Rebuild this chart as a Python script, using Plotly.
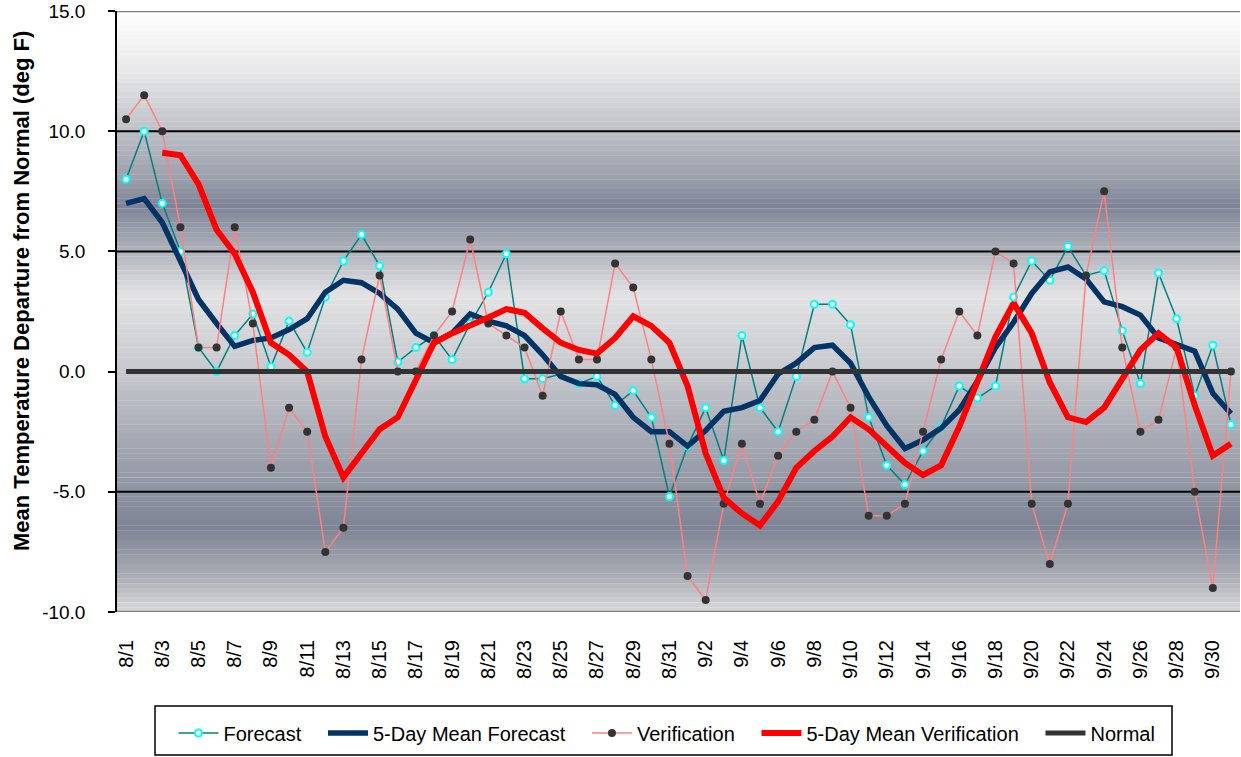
import plotly.graph_objects as go

# ---- data ----
dates = [f"8/{d}" for d in range(1, 32)] + [f"9/{d}" for d in range(1, 31)] + ["10/1"]

forecast = [8.0, 10.0, 7.0, 5.0, 1.0, 0.0, 1.5, 2.4, 0.2, 2.1,
            0.8, 3.1, 4.6, 5.7, 4.4, 0.4, 1.0, 1.5, 0.5, 2.0,
            3.3, 4.9, -0.3, -0.3, -0.1, -0.5, -0.2, -1.4, -0.8, -1.9, -5.2,
            -3.1, -1.5, -3.7, 1.5, -1.5, -2.5, -0.2, 2.8, 2.8, 1.95,
            -1.9, -3.9, -4.7, -3.3, -2.3, -0.6, -1.1, -0.6, 3.1, 4.6,
            3.8, 5.2, 4.0, 4.2, 1.7, -0.5, 4.1, 2.2, -1.0, 1.1,
            -2.2]

forecast_mean5 = [7.0, 7.2, 6.2, 4.6, 3.0, 2.0, 1.05, 1.3, 1.4, 1.75,
                  2.2, 3.3, 3.8, 3.7, 3.25, 2.6, 1.6, 1.2, 1.6, 2.4,
                  2.1, 1.9, 1.5, 0.7, -0.2, -0.5, -0.55, -0.95, -1.9, -2.5, -2.5,
                  -3.1, -2.45, -1.65, -1.5, -1.2, -0.1, 0.35, 1.0, 1.1, 0.35,
                  -1.05, -2.25, -3.2, -2.85, -2.35, -1.6, -0.4, 1.0, 2.05, 3.25,
                  4.15, 4.35, 3.85, 2.9, 2.7, 2.35, 1.4, 1.1, 0.85, -0.9,
                  -1.75]

verification = [10.5, 11.5, 10.0, 6.0, 1.0, 1.0, 6.0, 2.0, -4.0, -1.5,
                -2.5, -7.5, -6.5, 0.5, 4.0, 0.0, 0.0, 1.5, 2.5, 5.5,
                2.0, 1.5, 1.0, -1.0, 2.5, 0.5, 0.5, 4.5, 3.5, 0.5, -3.0,
                -8.5, -9.5, -5.5, -3.0, -5.5, -3.5, -2.5, -2.0, 0.0, -1.5,
                -6.0, -6.0, -5.5, -2.5, 0.5, 2.5, 1.5, 5.0, 4.5, -5.5,
                -8.0, -5.5, 4.0, 7.5, 1.0, -2.5, -2.0, 1.0, -5.0, -9.0,
                0.0]

# 5-day mean verification starts on 8/3
verification_mean5_dates = dates[2:]
verification_mean5 = [9.1, 9.0, 7.8, 5.9, 4.9, 3.3, 1.2, 0.7, 0.0, -2.7,
                      -4.4, -3.45, -2.4, -1.9, -0.3, 1.2, 1.6, 1.9, 2.25, 2.6,
                      2.45, 1.8, 1.2, 0.9, 0.75, 1.4, 2.3, 1.9, 1.2,
                      -0.6, -3.4, -5.25, -5.9, -6.4, -5.4, -4.0, -3.3, -2.7, -1.9,
                      -2.4, -3.1, -3.8, -4.3, -3.9, -2.3, -0.4, 1.45, 2.85, 1.6,
                      -0.45, -1.9, -2.1, -1.5, -0.3, 0.9, 1.6, 1.0, -1.4, -3.5,
                      -3.0]

normal = [0.0] * len(dates)

y_ticks = [-10, -5, 0, 5, 10, 15]
y_tick_labels = ["-10.0", "-5.0", "0.0", "5.0", "10.0", "15.0"]
grid_values = [10, 5, -5]

FONT = "Arial, Liberation Sans, sans-serif"
SP = "\u00a0\u00a0\u00a0"

fig = go.Figure()
fig.add_trace(go.Scatter(x=dates, y=forecast, name="Forecast" + SP, mode="lines+markers",
                         line=dict(color="#008080", width=1.5),
                         marker=dict(symbol="circle", size=7, color="white",
                                     line=dict(color="#00FFFF", width=2))))
fig.add_trace(go.Scatter(x=dates, y=forecast_mean5, name="5-Day Mean Forecast" + SP, mode="lines",
                         line=dict(color="#003366", width=5.5)))
fig.add_trace(go.Scatter(x=dates, y=verification, name="Verification" + SP, mode="lines+markers",
                         line=dict(color="#FF8080", width=1.5),
                         marker=dict(symbol="circle", size=8, color="#333333")))
fig.add_trace(go.Scatter(x=verification_mean5_dates, y=verification_mean5,
                         name="5-Day Mean Verification" + SP, mode="lines",
                         line=dict(color="#FF0000", width=6)))
fig.add_trace(go.Scatter(x=dates, y=normal, name="Normal", mode="lines",
                         line=dict(color="#333333", width=5)))

# ---- background gradient (styling) ----
stops = [(15, (255, 255, 255)), (12.5, (232, 232, 234)), (10, (190, 192, 199)),
         (8, (155, 159, 171)), (6.9, (126, 132, 150)), (5, (176, 179, 188)),
         (3.2, (227, 227, 229)), (0, (198, 200, 205)), (-3, (164, 168, 178)),
         (-6.5, (126, 132, 149)), (-8.5, (170, 173, 181)), (-10, (218, 218, 220))]

def col_at(v):
    for (a, ca), (b, cb) in zip(stops[:-1], stops[1:]):
        if b <= v <= a:
            t = (a - v) / (a - b)
            c = [round(ca[i] + (cb[i] - ca[i]) * t) for i in range(3)]
            return f"rgb({c[0]},{c[1]},{c[2]})"
    return "rgb(255,255,255)"

shapes = []
n = 125
step = 25 / n
for i in range(n):
    y1 = 15 - i * step
    y0 = y1 - step
    shapes.append(dict(type="rect", xref="paper", yref="y", x0=0, x1=1, y0=y0 - 0.01, y1=y1,
                       fillcolor=col_at((y0 + y1) / 2), line=dict(width=0), layer="below"))
for g in grid_values:
    shapes.append(dict(type="line", xref="paper", yref="y", x0=0, x1=1, y0=g, y1=g,
                       line=dict(color="black", width=2), layer="below"))
for g in (15, -10):
    shapes.append(dict(type="line", xref="paper", yref="y", x0=0, x1=1, y0=g, y1=g,
                       line=dict(color="#808080", width=2.5), layer="below"))

FW, FH = 1241, 757
L, T = 117, 11          # plot-area top-left
PW, PH = 1123, 601      # plot-area size
def px(x):
    return (x - L) / PW
def py(y):
    return (T + PH - y) / PH
shapes.append(dict(type="rect", xref="paper", yref="paper", x0=px(155), x1=px(1172),
                   y0=py(755), y1=py(706), line=dict(color="black", width=1.5),
                   fillcolor="white", layer="below"))

fig.update_layout(
    width=FW, height=FH,
    margin=dict(l=L, r=FW - L - PW, t=T, b=FH - T - PH, autoexpand=False),
    paper_bgcolor="white", plot_bgcolor="rgba(0,0,0,0)",
    font=dict(family=FONT, color="black", size=16),
    shapes=shapes,
    showlegend=True,
    legend=dict(orientation="h", x=px(667), xanchor="center", y=py(733), yanchor="middle",
                font=dict(family=FONT, size=20, color="black"), bgcolor="rgba(0,0,0,0)",
                itemwidth=40, traceorder="normal"),
    annotations=[dict(text="<b>Mean Temperature Departure from Normal (deg F)</b>",
                      xref="paper", yref="paper", x=px(21), y=py(291), textangle=-90,
                      showarrow=False, xanchor="center", yanchor="middle",
                      font=dict(family=FONT, size=22, color="black"))],
    xaxis=dict(type="category", categoryorder="array", categoryarray=dates,
               range=[-0.5, len(dates) - 0.5], tickvals=dates[::2], ticktext=dates[::2],
               tickangle=-90, tickfont=dict(family=FONT, size=20), showgrid=False,
               showline=False, ticks="", zeroline=False, automargin=False,
               ticklabelstandoff=23),
    yaxis=dict(range=[-10, 15], tickvals=y_ticks, ticktext=y_tick_labels, showgrid=False,
               zeroline=False, showline=True, linecolor="black", linewidth=1.5,
               ticks="outside", ticklen=7, tickcolor="black", tickwidth=1.5,
               tickfont=dict(family=FONT, size=19), automargin=False,
               ticklabelstandoff=19, ticklabeloverflow="allow"),
)

fig.write_html("out.html", config={"displayModeBar": False},
               post_script="document.body.style.margin='0px';document.body.style.overflow='hidden';")
